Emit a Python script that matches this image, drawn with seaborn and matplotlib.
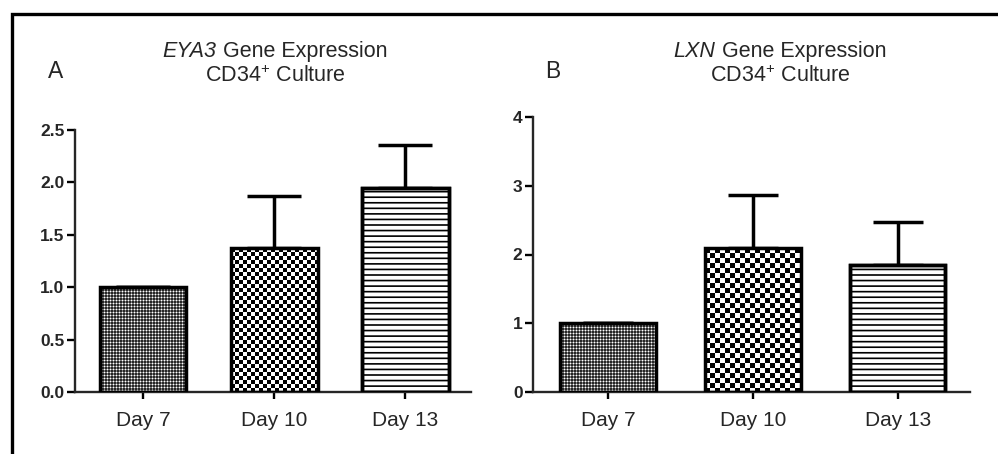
import numpy as np
import pandas as pd
import matplotlib
matplotlib.use("Agg")
import matplotlib.pyplot as plt
from matplotlib.patches import Rectangle
import seaborn as sns

# Relative expression (mean and upper SEM) at each culture day
days = ["Day 7", "Day 10", "Day 13"]
eya3_mean = [1.0, 1.37, 1.95]
eya3_sem = [0.0, 0.50, 0.41]
lxn_mean = [1.0, 2.09, 1.85]
lxn_sem = [0.0, 0.78, 0.62]

eya3_ticks = [0.0, 0.5, 1.0, 1.5, 2.0, 2.5]
eya3_ticklabels = ["0.0", "0.5", "1.0", "1.5", "2.0", "2.5"]
lxn_ticks = [0, 1, 2, 3, 4]
lxn_ticklabels = ["0", "1", "2", "3", "4"]

sns.set_theme(style="ticks")
plt.rcParams["font.family"] = ["Liberation Sans", "DejaVu Sans"]
plt.rcParams["mathtext.fontset"] = "custom"
plt.rcParams["mathtext.rm"] = "Liberation Sans"
plt.rcParams["mathtext.it"] = "Liberation Sans:italic"
plt.rcParams["hatch.linewidth"] = 1.2
plt.rcParams["hatch.color"] = "#3a3a3a"

W, H = 998, 454
fig = plt.figure(figsize=(W / 100, H / 100), dpi=100)


def fig_rect(left, right, bottom, top):
    return [left / W, 1 - bottom / H, (right - left) / W, (bottom - top) / H]


ax_a = fig.add_axes(fig_rect(75, 471, 392, 130))
ax_b = fig.add_axes(fig_rect(533, 970, 392, 117))


def checker_tile(kind, cell):
    if kind == "fine":
        return np.array([[0.15, 0.5, 0.15],
                         [0.5, 1.0, 0.5],
                         [0.15, 0.5, 0.15]])
    tile = np.ones((2 * cell, 2 * cell))
    tile[:cell, :cell] = 0.0
    tile[cell:, cell:] = 0.0
    return tile


def fill_texture(ax, patch, kind, cell):
    fig.canvas.draw()
    bb = patch.get_window_extent()
    wpx, hpx = int(round(bb.width)), int(round(bb.height))
    tile = checker_tile(kind, cell)
    reps = (hpx // tile.shape[0] + 2, wpx // tile.shape[1] + 2)
    img = np.tile(tile, reps)[:hpx, :wpx]
    x0 = patch.get_x()
    x1 = x0 + patch.get_width()
    y1 = patch.get_height()
    im = ax.imshow(img, cmap="gray", vmin=0, vmax=1, interpolation="nearest",
                   extent=[x0, x1, 0, y1], aspect="auto", zorder=1.5,
                   origin="upper")
    im.set_clip_path(patch)


def panel(ax, means, sems, ticks, ticklabels, ylim, capsize, coarse_cell):
    df = pd.DataFrame({"day": days, "value": means})
    sns.barplot(data=df, x="day", y="value", ax=ax, color="white",
                width=0.66, edgecolor="black", linewidth=2.5, zorder=2)
    bars = ax.patches
    ax.set_xlim(-0.52, 2.5)
    ax.set_ylim(*ylim)
    for p in bars:
        p.set_facecolor("none")
        p.set_zorder(3)
    bars[2].set_hatch("---")
    bars[2].set_facecolor("white")
    bars[2].set_zorder(1)
    edge = Rectangle((bars[2].get_x(), 0), bars[2].get_width(), bars[2].get_height(),
                     fill=False, edgecolor="black", linewidth=2.5, zorder=3)
    ax.add_patch(edge)
    ax.errorbar(np.arange(len(days)), means, yerr=[np.zeros(len(days)), sems],
                fmt="none", ecolor="black", elinewidth=2.5, capsize=capsize,
                capthick=2.5, zorder=0.5)
    fill_texture(ax, bars[0], "fine", 0)
    fill_texture(ax, bars[1], "coarse", coarse_cell)

    ax.set_yticks(ticks)
    ax.set_yticklabels(ticklabels, fontsize=12.5, fontweight="bold")
    ax.set_xticks(range(len(days)))
    ax.set_xticklabels(days, fontsize=15)
    ax.set_xlabel("")
    ax.set_ylabel("")
    sns.despine(ax=ax)
    ax.spines["left"].set_linewidth(1.7)
    ax.spines["bottom"].set_linewidth(1.7)
    ax.tick_params(axis="y", length=6, width=1.7, pad=1.5, color="black")
    ax.tick_params(axis="x", length=5, width=1.7, pad=9, color="black")
    ax.set_facecolor("white")


panel(ax_a, eya3_mean, eya3_sem, eya3_ticks, eya3_ticklabels, (0, 2.5), 19.4, 4)
panel(ax_b, lxn_mean, lxn_sem, lxn_ticks, lxn_ticklabels, (0, 4), 18, 5)


def gene_title(xc, gene):
    """Italic gene symbol followed by upright text, centred as one line."""
    y = 1 - 57 / H
    t1 = fig.text(0, y, gene, fontsize=15.5, style="italic", ha="left", va="baseline")
    t2 = fig.text(0, y, " Gene Expression", fontsize=15.5, ha="left", va="baseline")
    fig.canvas.draw()
    r = fig.canvas.get_renderer()
    w1 = t1.get_window_extent(r).width
    w2 = t2.get_window_extent(r).width
    x0 = xc - (w1 + w2) / 2
    t1.set_x(x0 / W)
    t2.set_x((x0 + w1) / W)
    fig.text(xc / W, 1 - 82 / H, r"CD34$^{+}$ Culture", ha="center",
             va="baseline", fontsize=15.5)


gene_title(275, "EYA3")
gene_title(780, "LXN")
fig.text(48 / W, 1 - 78 / H, "A", ha="left", va="baseline", fontsize=16.5)
fig.text(545 / W, 1 - 78 / H, "B", ha="left", va="baseline", fontsize=16.5)

# Outer frame around both panels
fig.add_artist(Rectangle((12 / W, -0.1), 1.2, 1.1 - 14 / H, transform=fig.transFigure,
                         fill=False, edgecolor="black", linewidth=2.4))

fig.savefig("out.png", dpi=100, facecolor="white")
